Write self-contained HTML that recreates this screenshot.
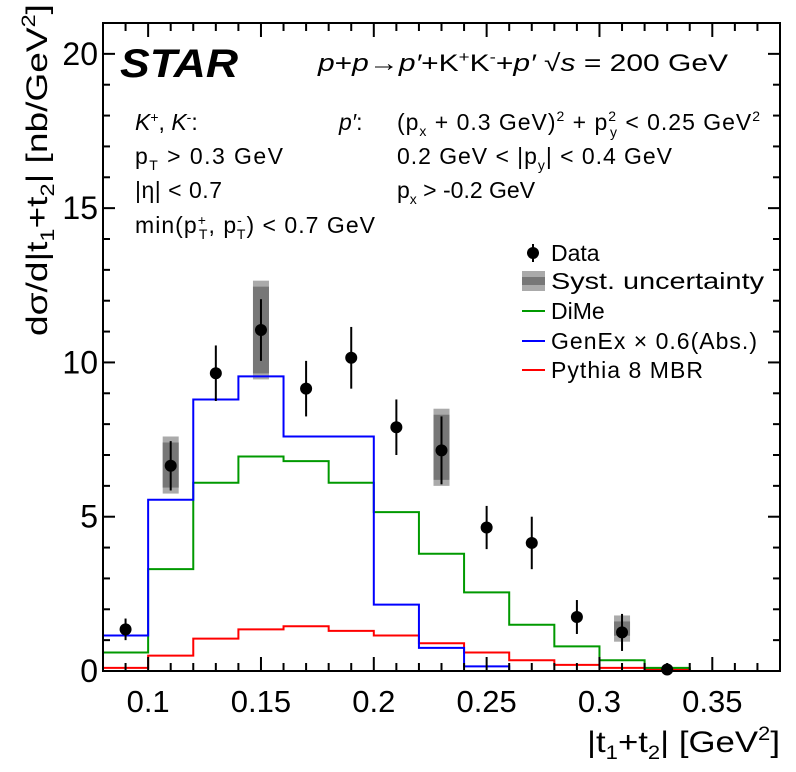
<!DOCTYPE html>
<html><head><meta charset="utf-8"><style>
body{margin:0;background:#fff}
svg{display:block;font-family:"Liberation Sans",sans-serif}
</style></head><body>
<svg id="c" width="796" height="772" xmlns="http://www.w3.org/2000/svg">
<g id="plot"></g>
<g fill="#000">
<text x="120" y="77" font-size="40" font-weight="bold" font-style="italic" textLength="118" lengthAdjust="spacingAndGlyphs">STAR</text>
<text x="318" y="71" font-size="24" textLength="410" lengthAdjust="spacingAndGlyphs"><tspan font-style="italic">p</tspan>+<tspan font-style="italic">p</tspan>→<tspan font-style="italic">p′</tspan>+K<tspan dy="-9" font-size="15">+</tspan><tspan dy="9">K</tspan><tspan dy="-9" font-size="15">-</tspan><tspan dy="9">+</tspan><tspan font-style="italic">p′</tspan>   √<tspan font-style="italic">s</tspan> = 200 GeV</text>
<text x="135" y="130" font-size="23"><tspan font-style="italic">K</tspan><tspan dy="-8" font-size="14">+</tspan><tspan dy="8">, </tspan><tspan font-style="italic">K</tspan><tspan dy="-8" font-size="14">-</tspan><tspan dy="8">:</tspan></text>
<text x="135" y="164" font-size="23" textLength="148">p<tspan dy="6" font-size="14">T</tspan><tspan dy="-6"> &gt; 0.3 GeV</tspan></text>
<text x="135" y="198" font-size="23" textLength="87">|η| &lt; 0.7</text>
<text x="135" y="233" font-size="23" textLength="240">min(p<tspan dy="-8" font-size="14">+</tspan><tspan dx="-8" dy="14" font-size="14">T</tspan><tspan dy="-6">, p</tspan><tspan dy="-8" font-size="14">-</tspan><tspan dx="-6" dy="14" font-size="14">T</tspan><tspan dy="-6">) &lt; 0.7 GeV</tspan></text>
<text x="339" y="130" font-size="23"><tspan font-style="italic">p′</tspan>:</text>
<text x="397" y="130" font-size="23" textLength="363">(p<tspan dy="6" font-size="14">x</tspan><tspan dy="-6"> + 0.3 GeV)</tspan><tspan dy="-9" font-size="14">2</tspan><tspan dy="9"> + p</tspan><tspan dy="-9" font-size="14">2</tspan><tspan dx="-7" dy="16" font-size="14">y</tspan><tspan dy="-7"> &lt; 0.25 GeV</tspan><tspan dy="-9" font-size="14">2</tspan></text>
<text x="397" y="164" font-size="23" textLength="275">0.2 GeV &lt; |p<tspan dy="6" font-size="14">y</tspan><tspan dy="-6">| &lt; 0.4 GeV</tspan></text>
<text x="397" y="198" font-size="23">p<tspan dy="6" font-size="14">x</tspan><tspan dy="-6"> &gt; -0.2 GeV</tspan></text>
</g>
<g font-size="23">
<g><line x1="533" y1="244" x2="533" y2="262" stroke="#000" stroke-width="2"/><circle cx="533" cy="253" r="6"/><text x="551" y="261">Data</text></g>
<g><rect x="522" y="271" width="23" height="20" fill="#aaa"/><rect x="522" y="277" width="23" height="8" fill="#777"/><text x="551" y="289" textLength="213" lengthAdjust="spacingAndGlyphs">Syst. uncertainty</text></g>
<g><line x1="522" y1="311" x2="545" y2="311" stroke="#009900" stroke-width="2"/><text x="551" y="319">DiMe</text></g>
<g><line x1="522" y1="341" x2="545" y2="341" stroke="#0000ff" stroke-width="2"/><text x="551" y="349" textLength="206">GenEx × 0.6(Abs.)</text></g>
<g><line x1="522" y1="370" x2="545" y2="370" stroke="#ff0000" stroke-width="2"/><text x="551" y="378" textLength="152">Pythia 8 MBR</text></g>
</g>
<text transform="translate(47,170) rotate(-90)" text-anchor="middle" font-size="30" textLength="332" lengthAdjust="spacingAndGlyphs">dσ/d|t<tspan dy="7" font-size="19">1</tspan><tspan dy="-7">+t</tspan><tspan dy="7" font-size="19">2</tspan><tspan dy="-7">| [nb/GeV</tspan><tspan dy="-12" font-size="19">2</tspan><tspan dy="12">]</tspan></text>
<text x="587" y="752" font-size="30" textLength="193" lengthAdjust="spacingAndGlyphs">|t<tspan dy="7" font-size="19">1</tspan><tspan dy="-7">+t</tspan><tspan dy="7" font-size="19">2</tspan><tspan dy="-7">| [GeV</tspan><tspan dy="-12" font-size="19">2</tspan><tspan dy="12">]</tspan></text>
</svg>
<script>
const binEdges=[0.08,0.10,0.12,0.14,0.16,0.18,0.20,0.22,0.24,0.26,0.28,0.30,0.32,0.34,0.36];
const dataX=[0.09,0.11,0.13,0.15,0.17,0.19,0.21,0.23,0.25,0.27,0.29,0.31,0.33];
const dataY=[1.35,6.65,9.65,11.05,9.15,10.15,7.9,7.15,4.65,4.15,1.75,1.25,0.05];
const statErr=[0.35,0.8,0.9,1.0,0.9,1.0,0.9,1.1,0.7,0.85,0.55,0.6,0.05];
const systX=[0.11,0.15,0.23,0.31];
const systLo=[5.75,9.45,6.0,0.95];
const systHi=[7.6,12.65,8.5,1.8];
const dime=[0.6,3.3,6.1,6.95,6.8,6.1,5.15,3.8,2.55,1.5,0.8,0.35,0.1,0.0];
const genex=[1.15,5.55,8.8,9.55,7.6,7.6,2.15,0.75,0.15,0,0,0,0,0];
const pythia=[0.1,0.5,1.05,1.35,1.45,1.3,1.15,0.9,0.6,0.35,0.2,0.1,0.05,0];
const xTickLabels=["0.1","0.15","0.2","0.25","0.3","0.35"];
const yTickLabels=["0","5","10","15","20"];

const L=103,R=780,T=23,B=671,XMIN=0.08,XMAX=0.38,YMIN=0,YMAX=21;
const sx=v=>L+(v-XMIN)/(XMAX-XMIN)*(R-L);
const sy=v=>B-(v-YMIN)/(YMAX-YMIN)*(B-T);
const NS="http://www.w3.org/2000/svg";
const g=document.getElementById('plot');
function mk(t,a,p){const e=document.createElementNS(NS,t);for(const k in a)e.setAttribute(k,a[k]);(p||g).appendChild(e);return e;}

systX.forEach((x,i)=>{
  const w=16;
  const r=mk('rect',{x:sx(x)-w/2,y:sy(systHi[i]),width:w,height:sy(systLo[i])-sy(systHi[i]),fill:'#aaa'});
  
  
  const inset=Math.min(6,(sy(systLo[i])-sy(systHi[i]))/4);
  const r2=mk('rect',{x:sx(x)-w/2,y:sy(systHi[i])+inset,width:w,height:Math.max(0,sy(systLo[i])-sy(systHi[i])-2*inset),fill:'#777'});
  
  
});

function hist(vals,color,name){
  let d='';
  vals.forEach((v,i)=>{const x0=sx(binEdges[i]),x1=sx(binEdges[i+1]),y=sy(v);d+=(i?'L':'M')+x0+' '+y+'L'+x1+' '+y;});
  const p=mk('path',{d:d,fill:'none',stroke:color,'stroke-width':2});
  
  
}
hist(pythia,'#ff0000','pythia-histogram');
hist(dime,'#009900','dime-histogram');
hist(genex,'#0000ff','genex-histogram');

dataX.forEach((x,i)=>{
  const l=mk('line',{x1:sx(x),x2:sx(x),y1:sy(dataY[i]+statErr[i]),y2:sy(Math.max(0,dataY[i]-statErr[i])),stroke:'#000','stroke-width':2});
  
  
  const c=mk('circle',{cx:sx(x),cy:sy(dataY[i]),r:6,fill:'#000'});
  
  
});

const f=mk('rect',{x:L,y:T,width:R-L,height:B-T,fill:'none',stroke:'#000','stroke-width':2});


for(let k=0;k<=30;k++){
  const v=0.08+k*0.01;if(v>XMAX+1e-9)break;
  const major=Math.abs(Math.round(v*100)%5)===0;
  const len=major?14:8;
  mk('line',{x1:sx(v),x2:sx(v),y1:B,y2:B-len,stroke:'#000','stroke-width':2});
  mk('line',{x1:sx(v),x2:sx(v),y1:T,y2:T+len,stroke:'#000','stroke-width':2});
}
xTickLabels.forEach(s=>{
  const t=mk('text',{x:sx(parseFloat(s)),y:712,'text-anchor':'middle','font-size':31});t.textContent=s;
  
  
});
for(let v=0;v<=21;v++){
  const major=v%5===0;const len=major?12:7;
  mk('line',{x1:L,x2:L+len,y1:sy(v),y2:sy(v),stroke:'#000','stroke-width':2});
  mk('line',{x1:R,x2:R-len,y1:sy(v),y2:sy(v),stroke:'#000','stroke-width':2});
}
yTickLabels.forEach(s=>{
  const t=mk('text',{x:98,y:sy(parseFloat(s))+11,'text-anchor':'end','font-size':32});t.textContent=s;
  
  
});
</script>
</body></html>
